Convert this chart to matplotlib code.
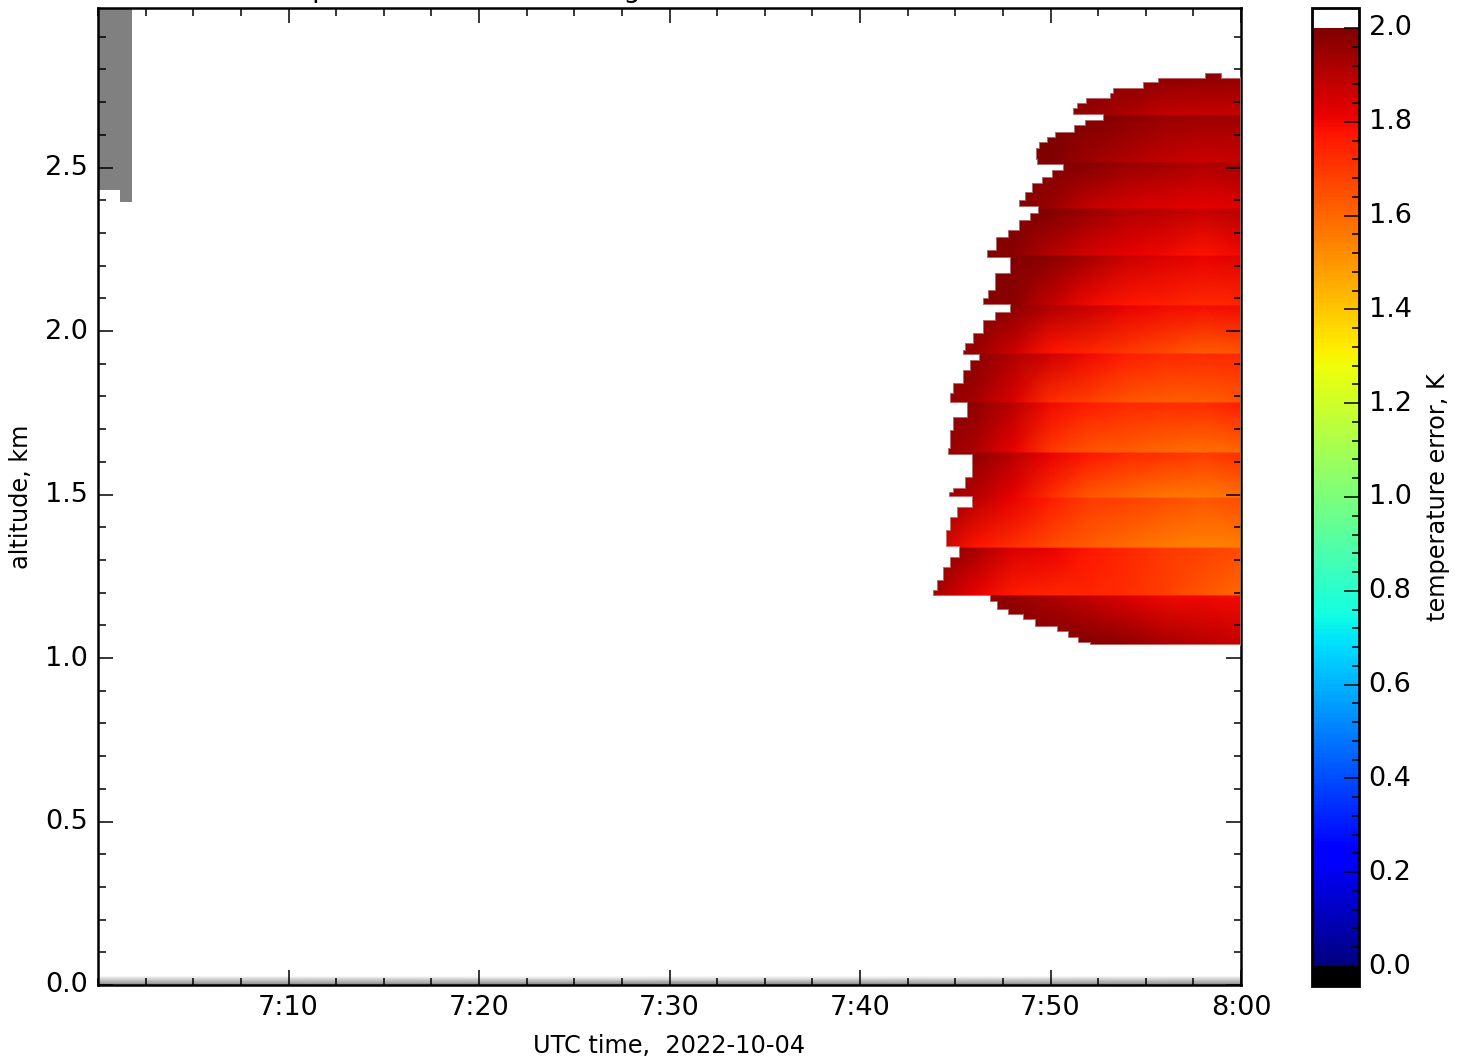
#!/usr/bin/env python3
"""Lidar temperature error, altitude against time, with a jet colour bar."""

import matplotlib
matplotlib.use('Agg')
import matplotlib.pyplot as plt
import numpy as np
from matplotlib.patches import Polygon
from matplotlib.ticker import MultipleLocator
from matplotlib.transforms import ScaledTranslation

# minutes after 7:00
time_ticks = [10, 20, 30, 40, 50, 60]
time_labels = ['7:10', '7:20', '7:30', '7:40', '7:50', '8:00']
alt_ticks = [0.0, 0.5, 1.0, 1.5, 2.0, 2.5]
cbar_ticks = [0.0, 0.2, 0.4, 0.6, 0.8, 1.0, 1.2, 1.4, 1.6, 1.8, 2.0]

# error field: each altitude gate is read at its lower and upper edge
field_minutes = [43.5, 46, 48, 50, 52, 54, 56, 58, 60]
gate_edges = [1.040, 1.193, 1.339, 1.492, 1.630, 1.783, 1.933, 2.080,
              2.232, 2.376, 2.517, 2.661, 2.800]
gate_lower = [
    [2.00, 2.00, 2.00, 2.00, 2.00, 1.97, 1.93, 1.90, 1.88],
    [1.95, 1.82, 1.76, 1.74, 1.74, 1.72, 1.68, 1.64, 1.60],
    [1.92, 1.78, 1.72, 1.66, 1.62, 1.59, 1.56, 1.54, 1.55],
    [1.98, 1.90, 1.82, 1.72, 1.63, 1.60, 1.57, 1.56, 1.58],
    [1.98, 1.92, 1.82, 1.70, 1.64, 1.62, 1.60, 1.58, 1.60],
    [1.98, 1.93, 1.84, 1.72, 1.68, 1.64, 1.62, 1.62, 1.64],
    [1.98, 1.95, 1.86, 1.78, 1.74, 1.70, 1.66, 1.62, 1.64],
    [2.00, 1.99, 1.97, 1.88, 1.80, 1.77, 1.75, 1.73, 1.74],
    [2.00, 2.00, 1.98, 1.90, 1.85, 1.82, 1.80, 1.78, 1.80],
    [2.00, 2.00, 2.00, 1.95, 1.88, 1.85, 1.83, 1.82, 1.83],
    [2.00, 2.00, 2.00, 2.00, 1.94, 1.91, 1.88, 1.86, 1.87],
    [2.00, 2.00, 2.00, 2.00, 1.96, 1.92, 1.88, 1.87, 1.88],
]
gate_upper = [
    [2.00, 1.99, 1.96, 1.92, 1.87, 1.83, 1.80, 1.80, 1.79],
    [2.00, 1.93, 1.85, 1.82, 1.77, 1.74, 1.70, 1.68, 1.66],
    [2.00, 1.90, 1.82, 1.76, 1.70, 1.68, 1.66, 1.64, 1.66],
    [2.00, 1.97, 1.90, 1.82, 1.78, 1.74, 1.72, 1.70, 1.72],
    [2.00, 1.97, 1.90, 1.80, 1.76, 1.74, 1.73, 1.73, 1.76],
    [2.00, 1.98, 1.92, 1.86, 1.80, 1.76, 1.74, 1.73, 1.74],
    [2.00, 2.00, 1.98, 1.92, 1.88, 1.82, 1.80, 1.79, 1.80],
    [2.00, 2.00, 2.00, 1.98, 1.93, 1.87, 1.84, 1.82, 1.83],
    [2.00, 2.00, 2.00, 2.00, 1.96, 1.92, 1.90, 1.88, 1.90],
    [2.00, 2.00, 2.00, 2.00, 1.99, 1.96, 1.94, 1.92, 1.93],
    [2.00, 2.00, 2.00, 2.00, 2.00, 1.98, 1.96, 1.95, 1.95],
    [2.00, 2.00, 2.00, 2.00, 2.00, 2.00, 2.00, 1.99, 1.97],
]

# first valid time in each altitude row, top row first
row_edges = [2.774, 2.761, 2.743, 2.728, 2.713, 2.697, 2.682, 2.661, 2.645,
             2.630, 2.609, 2.593, 2.578, 2.560, 2.523, 2.508, 2.492, 2.471,
             2.453, 2.425, 2.401, 2.379, 2.361, 2.339, 2.309, 2.287, 2.248,
             2.223, 2.177, 2.125, 2.101, 2.080, 2.058, 2.034, 1.994, 1.963,
             1.942, 1.927, 1.911, 1.881, 1.841, 1.810, 1.780, 1.737, 1.697,
             1.642, 1.621, 1.554, 1.520, 1.508, 1.492, 1.462, 1.431, 1.391,
             1.339, 1.309, 1.278, 1.239, 1.208, 1.190, 1.171, 1.147, 1.131,
             1.116, 1.095, 1.080, 1.061, 1.046, 1.040]
row_start = [55.64, 54.86, 53.28, 53.12, 51.86, 51.39, 51.18, 52.76, 51.81,
             51.23, 50.24, 49.82, 49.40, 49.24, 49.29, 50.66, 50.08, 49.55,
             49.03, 48.66, 48.35, 49.34, 48.92, 48.35, 47.77, 47.14, 46.67,
             47.87, 47.09, 46.72, 46.46, 47.87, 47.09, 46.46, 45.93, 45.51,
             45.41, 46.25, 45.77, 45.41, 44.88, 44.72, 45.62, 44.88, 44.72,
             44.62, 45.88, 45.51, 44.88, 44.67, 45.88, 45.09, 44.72, 44.51,
             45.20, 44.72, 44.36, 44.04, 43.83, 46.82, 47.19, 47.77, 48.56,
             49.19, 50.34, 50.92, 51.44, 52.07]
top_bump_minutes = [58.1, 59.0]
top_bump_alt = 2.79

# no-data block at the start of the record and the shaded strip at the ground
gap_minutes = [0.0, 1.15, 1.78]
gap_floor = [2.431, 2.394, 2.394]
ground_alt = [0.0, 0.027]
ground_shade = [0.5, 1.0]


def clip_outline():
    """Outline of the valid part of the error field, in data coordinates"""
    pts = [(60.0, row_edges[-1]), (60.0, row_edges[0])]
    pts += [(top_bump_minutes[1], row_edges[0]), (top_bump_minutes[1], top_bump_alt),
            (top_bump_minutes[0], top_bump_alt), (top_bump_minutes[0], row_edges[0])]
    for i, start in enumerate(row_start):
        pts.append((start, row_edges[i]))
        pts.append((start, row_edges[i + 1]))
    return pts


def main():
    fig = plt.figure(figsize=(14.64, 10.6), dpi=100)
    W, H = 1464.0, 1060.0
    ax = fig.add_axes([98 / W, 1 - 985 / H, (1241 - 98) / W, (985 - 8) / H])
    cax = fig.add_axes([1312 / W, 1 - 986 / H, 47 / W, (986 - 8) / H])

    cmap = plt.get_cmap('jet').copy()
    cmap.set_under('black')
    cmap.set_over('white')

    outline = Polygon(clip_outline(), closed=True, transform=ax.transData,
                      facecolor='none', edgecolor='none')
    ax.add_patch(outline)

    # one mesh per gate so the jump between gates stays sharp
    mesh = None
    for i in range(len(gate_lower)):
        X, Y = np.meshgrid(field_minutes, gate_edges[i:i + 2])
        C = np.array([gate_lower[i], gate_upper[i]])
        mesh = ax.pcolormesh(X, Y, C, shading='gouraud', cmap=cmap, vmin=0, vmax=2)
        mesh.set_clip_path(outline)

    # soft rim, the original image is smoothed at the edge of the valid data
    ax.add_patch(Polygon(clip_outline(), closed=True, facecolor='none',
                         edgecolor=(1, 1, 1, 0.45), lw=1.3, zorder=3))

    ax.fill_between(gap_minutes, gap_floor, 3.0, step='post', color='#808080', lw=0)
    X, Y = np.meshgrid([0, 60], ground_alt)
    C = np.column_stack([ground_shade, ground_shade])
    ax.pcolormesh(X, Y, C, shading='gouraud', cmap='gray', vmin=0, vmax=1)

    ax.set_xlim(0, 60)
    ax.set_ylim(0, 2.988)
    ax.set_xticks(time_ticks, time_labels)
    ax.set_yticks(alt_ticks)
    ax.xaxis.set_minor_locator(MultipleLocator(2.5))
    ax.yaxis.set_minor_locator(MultipleLocator(0.1))
    ax.tick_params(which='both', direction='in', top=True, right=True, width=1.1)
    ax.tick_params(which='major', length=10.8, labelsize=19.5, pad=7)
    ax.tick_params(which='minor', length=5.4)
    for spine in ax.spines.values():
        spine.set_linewidth(1.8)
    ax.set_axisbelow(False)

    ax.set_xlabel('UTC time,  2022-10-04', fontsize=17.3)
    ax.xaxis.set_label_coords(0.5, -0.0505)
    ax.set_ylabel('altitude, km', fontsize=17.3)
    ax.yaxis.set_label_coords(-0.057, 0.5)

    # only the descenders of the title stay inside the image
    fig.text(257 / W, 1 + 3 / H, 'Temperature error at the signal level',
             fontsize=19.5, ha='left', va='baseline')

    cbar = fig.colorbar(mesh, cax=cax, extend='both', extendfrac=0.0213, extendrect=True)
    cbar.set_ticks(cbar_ticks)
    cbar.ax.yaxis.set_minor_locator(MultipleLocator(0.04))
    cbar.ax.tick_params(which='both', direction='in', right=True, left=False, width=1.1)
    cbar.ax.tick_params(which='major', length=10.8, labelsize=19.5, pad=7)
    cbar.ax.tick_params(which='minor', length=5.4)
    cbar.outline.set_linewidth(2.0)
    cbar.set_label('temperature error, K', fontsize=17.3)
    cbar.ax.yaxis.set_label_coords(2.42, 0.5)

    # the value labels sit slightly above their ticks
    lift = ScaledTranslation(0, 2.5 / 100, fig.dpi_scale_trans)
    for label in ax.get_yticklabels() + cbar.ax.get_yticklabels():
        label.set_transform(label.get_transform() + lift)

    plt.savefig('out.png', dpi=100)
    plt.close()


if __name__ == '__main__':
    main()
